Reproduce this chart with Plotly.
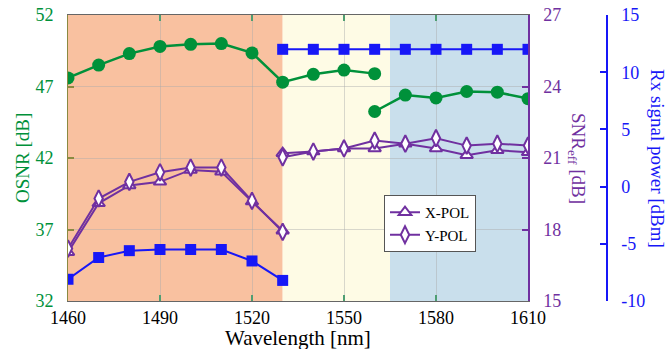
import plotly.graph_objects as go

# ---- data ----
wl_a = [1460, 1470, 1480, 1490, 1500, 1510, 1520, 1530]
wl_b = [1530, 1540, 1550, 1560, 1570, 1580, 1590, 1600, 1610]
wl_osnr_a = [1460, 1470, 1480, 1490, 1500, 1510, 1520, 1530, 1540, 1550, 1560]
wl_osnr_b = [1560, 1570, 1580, 1590, 1600, 1610]

osnr_a = [47.6, 48.5, 49.3, 49.8, 49.95, 50.0, 49.35, 47.3, 47.85, 48.15, 47.9]
osnr_b = [45.25, 46.4, 46.2, 46.65, 46.6, 46.15]

rx_a = [-8.1, -6.2, -5.6, -5.5, -5.5, -5.5, -6.5, -8.2]
rx_b = [12.0, 12.0, 12.0, 12.0, 12.0, 12.0, 12.0, 12.0, 12.0]

xpol_a = [17.05, 19.1, 19.85, 20.0, 20.5, 20.42, 19.17, 17.95]
ypol_a = [17.2, 19.3, 20.0, 20.4, 20.6, 20.6, 19.2, 17.9]
xpol_b = [21.2, 21.27, 21.4, 21.4, 21.6, 21.4, 21.12, 21.33, 21.24]
ypol_b = [21.03, 21.27, 21.4, 21.73, 21.6, 21.83, 21.52, 21.6, 21.52]

bands = [(1460, 1530), (1530, 1565), (1565, 1610)]
band_colors = ["#F9C1A0", "#FEFBE5", "#C9DFEC"]

x_ticks = [1460, 1490, 1520, 1550, 1580, 1610]
osnr_ticks = [32, 37, 42, 47, 52]
snr_ticks = [15, 18, 21, 24, 27]
rx_ticks = [-10, -5, 0, 5, 10, 15]
rx_ticktext = ["-10", "-5", "0", "5", "10", "15"]

GREEN = "#00913A"
BLUE = "#1717F7"
PURPLE = "#7030A0"
FONT = "Liberation Serif, Times New Roman, serif"

W, H = 670, 349
L, R, T, B = 68, 10, 15, 48
pw = W - L - R
ph = H - T - B
dom_end = (528 - L) / pw
rx_pos = (607 - L) / pw

fig = go.Figure()

for seg_x, seg_y in [(wl_osnr_a, osnr_a), (wl_osnr_b, osnr_b)]:
    fig.add_trace(go.Scatter(x=seg_x, y=seg_y, mode="lines+markers", yaxis="y",
                             line=dict(color=GREEN, width=2.5),
                             marker=dict(symbol="circle", size=13, color=GREEN),
                             showlegend=False))

for seg_x, seg_y in [(wl_a, rx_a), (wl_b, rx_b)]:
    fig.add_trace(go.Scatter(x=seg_x, y=seg_y, mode="lines+markers", yaxis="y3",
                             line=dict(color=BLUE, width=2),
                             marker=dict(symbol="square", size=11, color=BLUE),
                             showlegend=False))

for i, (seg_x, seg_y) in enumerate([(wl_a, xpol_a), (wl_b, xpol_b)]):
    fig.add_trace(go.Scatter(x=seg_x, y=seg_y, mode="lines+markers", yaxis="y2",
                             name="X-POL", legendgroup="x", showlegend=(i == 0),
                             line=dict(color=PURPLE, width=2),
                             marker=dict(symbol="triangle-up", size=11, color="white",
                                         line=dict(color=PURPLE, width=2))))
for i, (seg_x, seg_y) in enumerate([(wl_a, ypol_a), (wl_b, ypol_b)]):
    fig.add_trace(go.Scatter(x=seg_x, y=seg_y, mode="lines+markers", yaxis="y2",
                             name="Y-POL", legendgroup="y", showlegend=(i == 0),
                             line=dict(color=PURPLE, width=2),
                             marker=dict(symbol="diamond-tall", size=12, color="white",
                                         line=dict(color=PURPLE, width=2))))

for (x0, x1), c in zip(bands, band_colors):
    fig.add_shape(type="rect", xref="x", yref="paper", x0=x0, x1=x1, y0=0, y1=1,
                  fillcolor=c, line=dict(width=0), layer="below")

fig.update_layout(
    width=W, height=H,
    margin=dict(l=L, r=R, t=T, b=B, autoexpand=False),
    paper_bgcolor="white", plot_bgcolor="white",
    font=dict(family=FONT, size=18, color="black"),
    xaxis=dict(domain=[0, dom_end], range=[1460, 1610], tickvals=x_ticks,
               ticks="inside", ticklen=6, tickcolor="#4E9E72", tickwidth=2,
               showline=True, linecolor="#666666", linewidth=1, mirror="ticks",
               showgrid=True, gridcolor="rgba(170,170,170,0.45)", gridwidth=1,
               zeroline=False, tickfont=dict(family=FONT, size=18, color="black"),
               ticklabelstandoff=0, automargin=False),
    yaxis=dict(range=[32, 52], tickvals=osnr_ticks, ticks="inside", ticklen=6,
               tickcolor="#8A8A40", tickwidth=2, showline=True, linecolor="#8A8A40",
               linewidth=1, showgrid=True, gridcolor="rgba(170,170,170,0.45)",
               zeroline=False, tickfont=dict(family=FONT, size=18, color=GREEN),
               ticklabelstandoff=10, automargin=False),
    yaxis2=dict(range=[15, 27], tickvals=snr_ticks, overlaying="y", side="right",
                anchor="x", ticks="inside", ticklen=6, tickcolor=PURPLE, tickwidth=1.5,
                showline=True, linecolor=PURPLE, linewidth=1.5, showgrid=False,
                zeroline=False, tickfont=dict(family=FONT, size=18, color=PURPLE),
                ticklabelstandoff=10, automargin=False),
    yaxis3=dict(range=[-10, 15], tickvals=rx_ticks, ticktext=rx_ticktext,
                overlaying="y", side="right",
                anchor="free", position=rx_pos, ticks="inside", ticklen=6,
                tickcolor=BLUE, tickwidth=1.5, showline=True, linecolor=BLUE,
                linewidth=1.5, showgrid=False, zeroline=False,
                tickfont=dict(family=FONT, size=18, color=BLUE),
                ticklabelstandoff=10, automargin=False),
    legend=dict(x=(384 - L) / pw, y=(301 - 195) / ph, xanchor="left",
                yanchor="top", bgcolor="white", bordercolor="#555555", borderwidth=1,
                font=dict(family=FONT, size=15, color="black"),
                tracegroupgap=0, itemwidth=30),
    showlegend=True,
)

annots = [
    dict(text="OSNR [dB]", x=22, y=158, textangle=-90, color=GREEN, size=19),
    dict(text="SNR<sub>eff</sub> [dB]", x=577, y=158, textangle=90, color=PURPLE, size=19),
    dict(text="Rx signal power [dBm]", x=658, y=158, textangle=90, color=BLUE, size=19),
    dict(text="Wavelength [nm]", x=298, y=338, textangle=0, color="black", size=21),
]
for a in annots:
    fig.add_annotation(text=a["text"], xref="paper", yref="paper",
                       x=(a["x"] - L) / pw, y=(H - B - a["y"]) / ph,
                       xanchor="center", yanchor="middle", showarrow=False,
                       textangle=a["textangle"],
                       font=dict(family=FONT, size=a["size"], color=a["color"]))

fig.write_html("out.html")
